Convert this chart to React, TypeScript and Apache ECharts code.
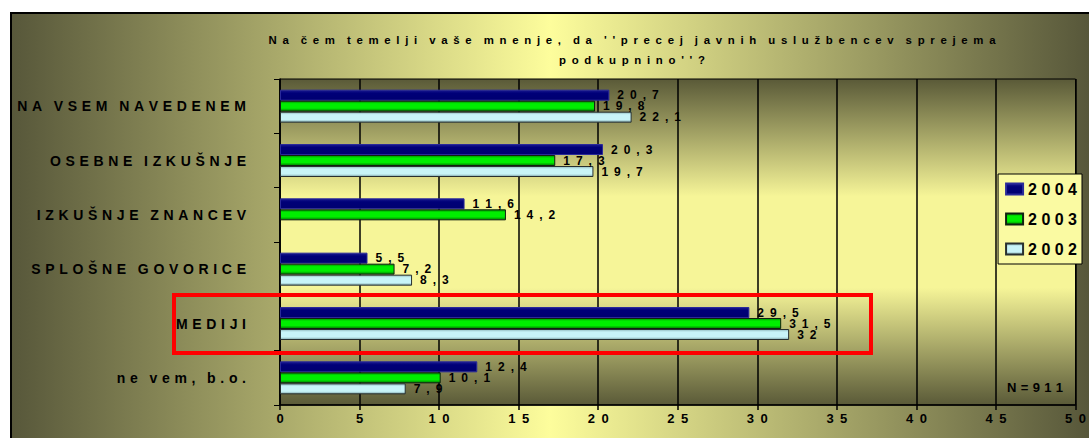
import React, { useEffect, useRef } from "react";
import * as echarts from "echarts";

const categories = [
  "NA VSEM NAVEDENEM",
  "OSEBNE IZKUŠNJE",
  "IZKUŠNJE ZNANCEV",
  "SPLOŠNE GOVORICE",
  "MEDIJI",
  "ne vem, b.o.",
];
const years = ["2004", "2003", "2002"];
const values2004 = [20.7, 20.3, 11.6, 5.5, 29.5, 12.4];
const values2003 = [19.8, 17.3, 14.2, 7.2, 31.5, 10.1];
const values2002: (number | null)[] = [22.1, 19.7, null, 8.3, 32, 7.9];
const xTicks = [0, 5, 10, 15, 20, 25, 30, 35, 40, 45, 50];
const titleLine1 = "Na čem temelji vaše mnenje, da ''precej javnih uslužbencev sprejema";
const titleLine2 = "podkupnino''?";
const noteText = "N = 911";

const NB = "\u00A0";
const EN = "\u2002";
const TH = "\u2004";

const spaced = (s: string, gap = NB, wordGap = NB + NB + NB) =>
  s
    .split(" ")
    .map((w) => w.split("").join(gap))
    .join(wordGap);

const fmtNum = (v: number) => spaced(String(v).replace(".", ","), EN);

export default function App() {
  const ref = useRef<HTMLDivElement>(null);
  useEffect(() => {
    if (!ref.current) return;
    const chart = echarts.init(ref.current, undefined, { renderer: "svg" });
    const LG = echarts.graphic.LinearGradient;
    const font = "Arial, Liberation Sans, sans-serif";
    const labelCfg = {
      show: true,
      position: "right",
      distance: 8,
      color: "#000",
      fontFamily: font,
      fontWeight: "bold",
      fontSize: 12,
      formatter: (p: any) => (p.value == null ? "" : fmtNum(p.value)),
    };
    const seriesData = [values2004, values2003, values2002];
    const styles = [
      {
        color: new LG(0, 0, 0, 1, [
          { offset: 0, color: "#1a1a90" },
          { offset: 0.3, color: "#000078" },
          { offset: 1, color: "#000070" },
        ]),
        borderColor: "#2a2a9a",
        borderWidth: 1,
      },
      {
        color: new LG(0, 0, 0, 1, [
          { offset: 0, color: "#008a00" },
          { offset: 0.25, color: "#00ee00" },
          { offset: 0.7, color: "#00ee00" },
          { offset: 1, color: "#007a00" },
        ]),
        borderColor: "#102010",
        borderWidth: 1,
      },
      {
        color: new LG(0, 0, 0, 1, [
          { offset: 0, color: "#8fb8bc" },
          { offset: 0.25, color: "#c8f4f8" },
          { offset: 0.75, color: "#c8f4f8" },
          { offset: 1, color: "#7fa4a8" },
        ]),
        borderColor: "#283030",
        borderWidth: 1,
      },
    ];
    chart.setOption({
      animation: false,
      title: {
        text:
          spaced(titleLine1, EN, EN + NB + NB) +
          "\n" +
          spaced(titleLine2, EN, EN + NB + NB),
        left: 627,
        top: 25,
        textAlign: "center",
        textStyle: {
          fontFamily: font,
          fontWeight: "bold",
          fontSize: 11.4,
          lineHeight: 20,
          color: "#000",
        },
      },
      graphic: [
        {
          type: "rect",
          z: -10,
          silent: true,
          shape: { x: 11, y: 13, width: 1100, height: 440 },
          style: {
            fill: new LG(0, 0, 1, 0, [
              { offset: 0, color: "#57573a" },
              { offset: 0.49, color: "#fdfd9c" },
              { offset: 0.98, color: "#57573a" },
              { offset: 1, color: "#57573a" },
            ]),
            stroke: "#000",
            lineWidth: 2,
          },
        },
        {
          type: "rect",
          z: 100,
          silent: true,
          shape: { x: 174, y: 295, width: 697, height: 58 },
          style: { fill: "none", stroke: "#ff0000", lineWidth: 4 },
        },
        {
          type: "text",
          z: 100,
          left: 1007,
          top: 381,
          style: {
            text: spaced(noteText, TH, TH),
            fontFamily: font,
            fontWeight: "bold",
            fontSize: 13,
            fill: "#000",
          },
        },
      ],
      legend: {
        orient: "vertical",
        right: 7,
        top: 174,
        data: years,
        itemWidth: 17,
        itemHeight: 11,
        itemGap: 14,
        itemTextGap: 4,
        padding: [7, 5, 7, 7],
        backgroundColor: "#fafaa2",
        borderColor: "#000",
        borderWidth: 1,
        borderRadius: 0,
        icon: "rect",
        formatter: (n: string) => spaced(n, NB),
        textStyle: {
          fontFamily: font,
          fontWeight: "bold",
          fontSize: 16,
          color: "#000",
        },
      },
      grid: {
        left: 280,
        top: 79,
        right: 6,
        bottom: 33,
        show: true,
        borderColor: "#000",
        borderWidth: 1,
        backgroundColor: new LG(0, 0, 0, 1, [
          { offset: 0, color: "#5a5a38" },
          { offset: 0.36, color: "#f6f598" },
          { offset: 0.64, color: "#f6f598" },
          { offset: 1, color: "#5a5a38" },
        ]),
      },
      xAxis: {
        type: "value",
        min: xTicks[0],
        max: xTicks[xTicks.length - 1],
        interval: 5,
        axisLine: { show: true, lineStyle: { color: "#000", width: 1.5 } },
        axisTick: { show: true, length: 5, lineStyle: { color: "#000", width: 1.5 } },
        splitLine: { show: true, lineStyle: { color: "#000", width: 1.5 } },
        axisLabel: {
          margin: 7,
          color: "#000",
          fontFamily: font,
          fontWeight: "bold",
          fontSize: 13,
          formatter: (v: number) => spaced(String(v), EN),
        },
      },
      yAxis: {
        type: "category",
        inverse: true,
        data: categories,
        axisLine: { show: true, lineStyle: { color: "#000", width: 1.5 } },
        axisTick: { show: true, length: 6, lineStyle: { color: "#000", width: 1 } },
        axisLabel: {
          margin: 34,
          color: "#000",
          fontFamily: font,
          fontWeight: "bold",
          fontSize: 14,
          formatter: (v: string) => spaced(v, TH, NB + NB + NB),
        },
      },
      series: years.map((y, i) => ({
        name: y,
        type: "bar",
        data: seriesData[i],
        barWidth: 11,
        barGap: "0%",
        itemStyle: styles[i],
        label: labelCfg,
      })),
    });
    return () => chart.dispose();
  }, []);
  return (
    <div
      ref={ref}
      style={{ position: "absolute", left: 0, top: 0, width: 1089, height: 438 }}
    />
  );
}
